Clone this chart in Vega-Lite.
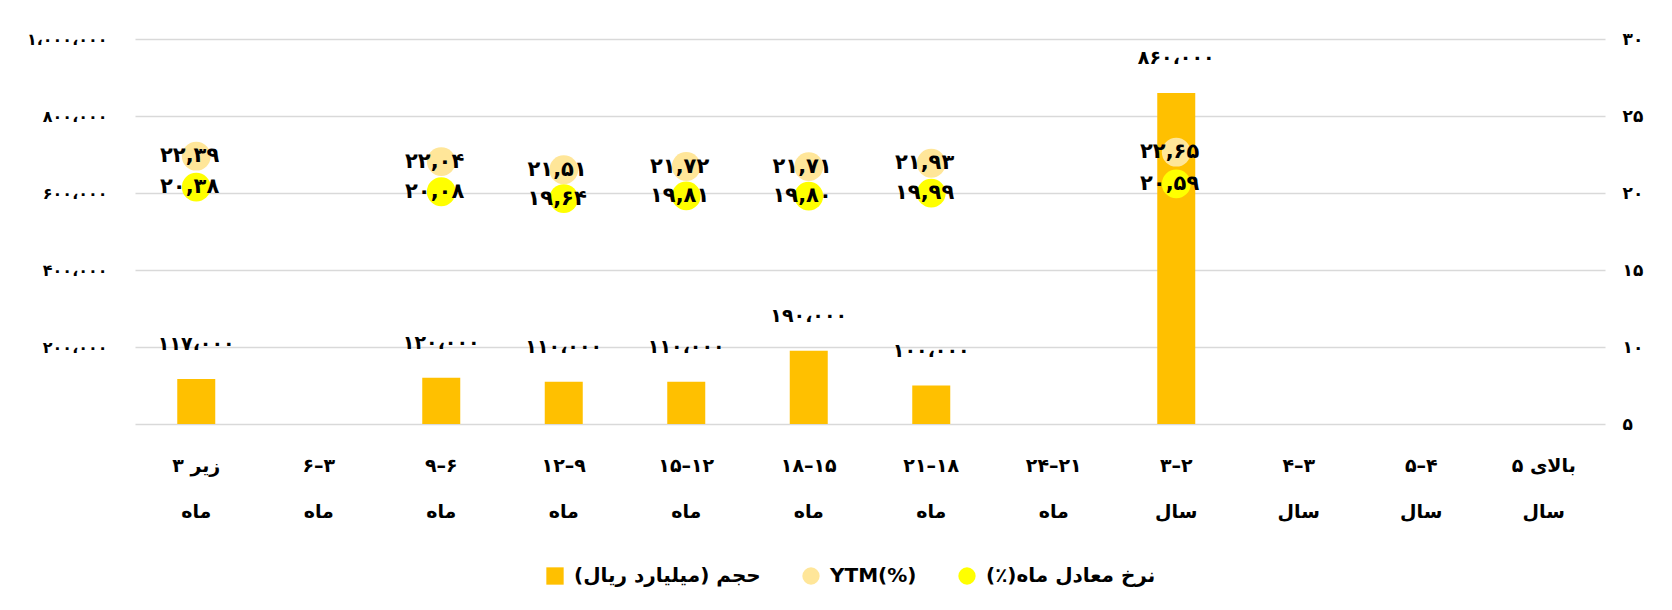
{
  "$schema": "https://vega.github.io/schema/vega-lite/v6.json",
  "width": 1470,
  "height": 385,
  "autosize": {"type": "none"},
  "padding": {"left": 135, "top": 39, "right": 67, "bottom": 186},
  "background": "white",
  "config": {
    "locale": {"number": {"decimal": ",", "thousands": "\u060c", "grouping": [3], "currency": ["", ""], "numerals": ["\u06f0","\u06f1","\u06f2","\u06f3","\u06f4","\u06f5","\u06f6","\u06f7","\u06f8","\u06f9"]}},
    "view": {"stroke": null},
    "font": "DejaVu Sans",
    "axis": {"labelFont": "DejaVu Sans", "labelFontWeight": "bold", "labelColor": "#000000", "ticks": false, "domain": false}
  },
  "data": {"values": [
    {"cat": "\u06f3 \u0632\u06cc\u0631|\u0645\u0627\u0647", "kind": "bar", "series": "\u062d\u062c\u0645 (\u0645\u06cc\u0644\u06cc\u0627\u0631\u062f \u0631\u06cc\u0627\u0644)\u200f", "value": 117000},
    {"cat": "۹–۶|ماه", "kind": "bar", "series": "\u062d\u062c\u0645 (\u0645\u06cc\u0644\u06cc\u0627\u0631\u062f \u0631\u06cc\u0627\u0644)\u200f", "value": 120000},
    {"cat": "۱۲–۹|ماه", "kind": "bar", "series": "\u062d\u062c\u0645 (\u0645\u06cc\u0644\u06cc\u0627\u0631\u062f \u0631\u06cc\u0627\u0644)\u200f", "value": 110000},
    {"cat": "۱۵–۱۲|ماه", "kind": "bar", "series": "\u062d\u062c\u0645 (\u0645\u06cc\u0644\u06cc\u0627\u0631\u062f \u0631\u06cc\u0627\u0644)\u200f", "value": 110000},
    {"cat": "۱۸–۱۵|ماه", "kind": "bar", "series": "\u062d\u062c\u0645 (\u0645\u06cc\u0644\u06cc\u0627\u0631\u062f \u0631\u06cc\u0627\u0644)\u200f", "value": 190000},
    {"cat": "۲۱–۱۸|ماه", "kind": "bar", "series": "\u062d\u062c\u0645 (\u0645\u06cc\u0644\u06cc\u0627\u0631\u062f \u0631\u06cc\u0627\u0644)\u200f", "value": 100000},
    {"cat": "۳–۲|سال", "kind": "bar", "series": "\u062d\u062c\u0645 (\u0645\u06cc\u0644\u06cc\u0627\u0631\u062f \u0631\u06cc\u0627\u0644)\u200f", "value": 860000},
    {"cat": "\u06f3 \u0632\u06cc\u0631|\u0645\u0627\u0647", "kind": "pt", "series": "YTM(%)", "value": 22.39},
    {"cat": "۹–۶|ماه", "kind": "pt", "series": "YTM(%)", "value": 22.04},
    {"cat": "۱۲–۹|ماه", "kind": "pt", "series": "YTM(%)", "value": 21.51},
    {"cat": "۱۵–۱۲|ماه", "kind": "pt", "series": "YTM(%)", "value": 21.72},
    {"cat": "۱۸–۱۵|ماه", "kind": "pt", "series": "YTM(%)", "value": 21.71},
    {"cat": "۲۱–۱۸|ماه", "kind": "pt", "series": "YTM(%)", "value": 21.93},
    {"cat": "۳–۲|سال", "kind": "pt", "series": "YTM(%)", "value": 22.65},
    {"cat": "\u06f3 \u0632\u06cc\u0631|\u0645\u0627\u0647", "kind": "pt", "series": "\u0646\u0631\u062e \u0645\u0639\u0627\u062f\u0644 \u0645\u0627\u0647(\u066a)\u200f", "value": 20.38},
    {"cat": "۹–۶|ماه", "kind": "pt", "series": "\u0646\u0631\u062e \u0645\u0639\u0627\u062f\u0644 \u0645\u0627\u0647(\u066a)\u200f", "value": 20.08},
    {"cat": "۱۲–۹|ماه", "kind": "pt", "series": "\u0646\u0631\u062e \u0645\u0639\u0627\u062f\u0644 \u0645\u0627\u0647(\u066a)\u200f", "value": 19.64},
    {"cat": "۱۵–۱۲|ماه", "kind": "pt", "series": "\u0646\u0631\u062e \u0645\u0639\u0627\u062f\u0644 \u0645\u0627\u0647(\u066a)\u200f", "value": 19.81},
    {"cat": "۱۸–۱۵|ماه", "kind": "pt", "series": "\u0646\u0631\u062e \u0645\u0639\u0627\u062f\u0644 \u0645\u0627\u0647(\u066a)\u200f", "value": 19.80},
    {"cat": "۲۱–۱۸|ماه", "kind": "pt", "series": "\u0646\u0631\u062e \u0645\u0639\u0627\u062f\u0644 \u0645\u0627\u0647(\u066a)\u200f", "value": 19.99},
    {"cat": "۳–۲|سال", "kind": "pt", "series": "\u0646\u0631\u062e \u0645\u0639\u0627\u062f\u0644 \u0645\u0627\u0647(\u066a)\u200f", "value": 20.59}
  ]},
  "encoding": {
    "x": {
      "field": "cat", "type": "nominal", "sort": null,
      "scale": {"domain": ["\u06f3 \u0632\u06cc\u0631|\u0645\u0627\u0647", "۶–۳|ماه", "۹–۶|ماه", "۱۲–۹|ماه", "۱۵–۱۲|ماه", "۱۸–۱۵|ماه", "۲۱–۱۸|ماه", "۲۴–۲۱|ماه", "۳–۲|سال", "۴–۳|سال", "۵–۴|سال", "\u06f5 \u0628\u0627\u0644\u0627\u06cc|\u0633\u0627\u0644"], "paddingInner": 0, "paddingOuter": 0},
      "axis": {"title": null, "labelAngle": 0, "labelExpr": "split(datum.label, '|')", "labelFontSize": 19, "labelLineHeight": 46, "labelPadding": 32, "labelBaseline": "top", "grid": false}
    }
  },
  "layer": [
    {
      "layer": [
        {
          "transform": [{"filter": "datum.kind == 'bar'"}],
          "mark": {"type": "bar", "size": 38},
          "encoding": {
            "y": {"field": "value", "type": "quantitative", "scale": {"domain": [0, 1000000], "nice": false},
              "axis": {"orient": "left", "title": null, "values": [200000, 400000, 600000, 800000, 1000000], "format": ",d", "grid": false, "labelFontSize": 16, "labelPadding": 28}},
            "color": {"field": "series", "type": "nominal",
              "scale": {"domain": ["\u062d\u062c\u0645 (\u0645\u06cc\u0644\u06cc\u0627\u0631\u062f \u0631\u06cc\u0627\u0644)\u200f", "YTM(%)", "\u0646\u0631\u062e \u0645\u0639\u0627\u062f\u0644 \u0645\u0627\u0647(\u066a)\u200f"], "range": ["#FFC000", "#FFE699", "#FFFF00"]},
              "legend": {"title": null, "orient": "none", "legendX": 410, "legendY": 527, "direction": "horizontal", "labelFont": "DejaVu Sans", "labelFontWeight": "bold", "labelFontSize": 20, "labelColor": "#000000", "labelLimit": 400, "symbolSize": 300, "columnPadding": 40, "labelOffset": 9, "symbolType": "square"}}
          }
        },
        {
          "transform": [{"filter": "datum.kind == 'bar'"}],
          "mark": {"type": "text", "dy": -35, "baseline": "middle", "align": "center", "fontSize": 19, "fontWeight": "bold", "color": "#000000"},
          "encoding": {
            "y": {"field": "value", "type": "quantitative"},
            "text": {"field": "value", "type": "quantitative", "format": ",d"}
          }
        }
      ]
    },
    {
      "layer": [
        {
          "transform": [{"filter": "datum.kind == 'pt'"}],
          "mark": {"type": "point", "filled": true, "opacity": 1, "size": 830},
          "encoding": {
            "y": {"field": "value", "type": "quantitative", "scale": {"domain": [5, 30], "nice": false},
              "axis": {"orient": "right", "title": null, "values": [5, 10, 15, 20, 25, 30], "format": "d", "grid": true, "gridColor": "#d9d9d9", "gridWidth": 1.5, "labelFontSize": 17, "labelPadding": 17}},
            "color": {"field": "series", "type": "nominal"},
            "shape": {"field": "series", "type": "nominal", "scale": {"domain": ["\u062d\u062c\u0645 (\u0645\u06cc\u0644\u06cc\u0627\u0631\u062f \u0631\u06cc\u0627\u0644)\u200f", "YTM(%)", "\u0646\u0631\u062e \u0645\u0639\u0627\u062f\u0644 \u0645\u0627\u0647(\u066a)\u200f"], "range": ["square", "circle", "circle"]}, "legend": null}
          }
        },
        {
          "transform": [{"filter": "datum.kind == 'pt'"}],
          "mark": {"type": "text", "dx": 23, "baseline": "middle", "align": "right", "fontSize": 21, "fontWeight": "bold", "color": "#000000"},
          "encoding": {
            "y": {"field": "value", "type": "quantitative"},
            "text": {"field": "value", "type": "quantitative", "format": ".2f"}
          }
        }
      ]
    }
  ],
  "resolve": {"scale": {"y": "independent"}}
}
